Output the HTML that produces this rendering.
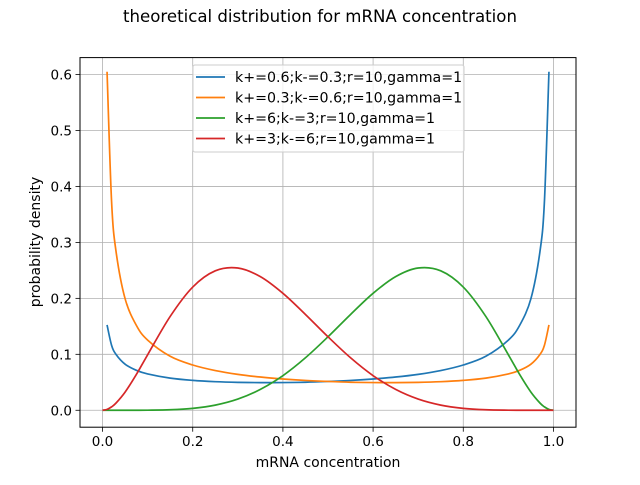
<!DOCTYPE html>
<html><head><meta charset="utf-8"><style>
body{margin:0;background:#fff;}
svg text{font-family:"DejaVu Sans","Liberation Sans",sans-serif;fill:#000;}
</style></head><body>
<svg id="chart" width="640" height="480" xmlns="http://www.w3.org/2000/svg">
<rect width="640" height="480" fill="#fff"/>
<text x="320" y="22" font-size="16.6" text-anchor="middle">theoretical distribution for mRNA concentration</text>
<g id="grid"></g>
<g id="series"></g>
<rect x="80" y="57.6" width="496" height="369.6" fill="none" stroke="#000" stroke-width="1"/>
<g id="ticks"></g>
<text x="328" y="467" font-size="14" text-anchor="middle">mRNA concentration</text>
<text x="40" y="242" font-size="14" text-anchor="middle" transform="rotate(-90 40 242)">probability density</text>
<g id="legend">
<rect x="193" y="65" width="271" height="87" rx="2" fill="#fff" fill-opacity="0.8" stroke="#ccc" stroke-width="1"/>
</g>
</svg>
<script>
const xs = [0.01,0.02,0.03,0.05,0.075,0.1,0.15,0.2,0.25,0.3,0.35,0.4,0.45,0.5,0.55,0.6,0.65,0.7,0.75,0.8,0.85,0.9,0.925,0.95,0.97,0.98,0.99];
const blueVals = [0.1524,0.1163,0.0997,0.0824,0.0714,0.0649,0.0574,0.0534,0.0511,0.0499,0.0494,0.0495,0.0501,0.0515,0.0533,0.0559,0.0594,0.0642,0.0710,0.0809,0.0965,0.1254,0.1517,0.1994,0.2833,0.3736,0.6050];
const orangeVals = [0.6050,0.3736,0.2833,0.1994,0.1517,0.1254,0.0965,0.0809,0.0710,0.0642,0.0594,0.0559,0.0533,0.0515,0.0501,0.0495,0.0494,0.0499,0.0511,0.0534,0.0574,0.0649,0.0714,0.0824,0.0997,0.1163,0.1524];
const xs2 = [0,0.01,0.02,0.03,0.05,0.075,0.1,0.15,0.2,0.25,0.3,0.35,0.4,0.45,0.5,0.55,0.6,0.65,0.7,0.75,0.8,0.85,0.9,0.925,0.95,0.97,0.98,0.99,1];
const greenVals = [0,0,0,0,0.00001,0.00003,0.00014,0.00092,0.00344,0.00923,0.0200,0.0373,0.0619,0.0938,0.1313,0.1712,0.2090,0.2388,0.2542,0.2492,0.2202,0.1677,0.0992,0.0640,0.0325,0.01298,0.00607,0.0016,0];
const redVals = [0,0.0016,0.00607,0.01298,0.0325,0.0640,0.0992,0.1677,0.2202,0.2492,0.2542,0.2388,0.2090,0.1712,0.1313,0.0938,0.0619,0.0373,0.0200,0.00923,0.00344,0.00092,0.00014,0.00003,0.00001,0,0,0,0];
const xTicks = [0,0.2,0.4,0.6,0.8,1.0];
const xTickLabels = ["0.0","0.2","0.4","0.6","0.8","1.0"];
const yTicks = [0,0.1,0.2,0.3,0.4,0.5,0.6];
const yTickLabels = ["0.0","0.1","0.2","0.3","0.4","0.5","0.6"];
const legendLabels = ["k+=0.6;k-=0.3;r=10,gamma=1","k+=0.3;k-=0.6;r=10,gamma=1","k+=6;k-=3;r=10,gamma=1","k+=3;k-=6;r=10,gamma=1"];

const NS="http://www.w3.org/2000/svg";
const L=80,R=576,T=57.6,B=427.2;
const xmin=-0.05,xmax=1.05,ymin=-0.03025,ymax=0.63025;
const sx=v=>L+(v-xmin)/(xmax-xmin)*(R-L);
const sy=v=>B-(v-ymin)/(ymax-ymin)*(B-T);
function mk(tag,attrs,parent){const e=document.createElementNS(NS,tag);for(const k in attrs)e.setAttribute(k,attrs[k]);parent.appendChild(e);return e;}
function smoothPath(P){
  let d='M'+P[0][0].toFixed(2)+','+P[0][1].toFixed(2);
  for(let i=0;i<P.length-1;i++){
    const p0=P[Math.max(i-1,0)],p1=P[i],p2=P[i+1],p3=P[Math.min(i+2,P.length-1)];
    const c1=[p1[0]+(p2[0]-p0[0])/6,p1[1]+(p2[1]-p0[1])/6];
    const c2=[p2[0]-(p3[0]-p1[0])/6,p2[1]-(p3[1]-p1[1])/6];
    d+=' C'+c1[0].toFixed(2)+','+c1[1].toFixed(2)+' '+c2[0].toFixed(2)+','+c2[1].toFixed(2)+' '+p2[0].toFixed(2)+','+p2[1].toFixed(2);
  }
  return d;
}
const grid=document.getElementById('grid'),ticks=document.getElementById('ticks'),series=document.getElementById('series'),legend=document.getElementById('legend');
xTicks.forEach((v,i)=>{
  const g=mk('line',{x1:sx(v),x2:sx(v),y1:T,y2:B,stroke:'#b0b0b0','stroke-width':0.8},grid);
  
  
  const t=mk('line',{x1:sx(v),x2:sx(v),y1:B,y2:B+4.5,stroke:'#000','stroke-width':0.8},ticks);
  
  
  const l=mk('text',{x:sx(v),y:B+19,'font-size':13.5,'text-anchor':'middle'},ticks);
  l.textContent=xTickLabels[i];
  
  
});
yTicks.forEach((v,i)=>{
  const g=mk('line',{x1:L,x2:R,y1:sy(v),y2:sy(v),stroke:'#b0b0b0','stroke-width':0.8},grid);
  
  
  const t=mk('line',{x1:L-4.5,x2:L,y1:sy(v),y2:sy(v),stroke:'#000','stroke-width':0.8},ticks);
  
  
  const l=mk('text',{x:L-8,y:sy(v)+5,'font-size':13.5,'text-anchor':'end'},ticks);
  l.textContent=yTickLabels[i];
  
  
});
const defs=[[xs,blueVals,'#1f77b4','blue-series'],[xs,orangeVals,'#ff7f0e','orange-series'],[xs2,greenVals,'#2ca02c','green-series'],[xs2,redVals,'#d62728','red-series']];
defs.forEach((d,i)=>{
  const P=d[0].map((x,j)=>[sx(x),sy(d[1][j])]);
  const p=mk('path',{d:smoothPath(P),fill:'none',stroke:d[2],'stroke-width':1.7,'stroke-linejoin':'round'},series);
  
  
  const y=77+i*20.5;
  const ln=mk('line',{x1:196,x2:225,y1:y,y2:y,stroke:d[2],'stroke-width':1.7},legend);
  
  
  const tx=mk('text',{x:235,y:y+5,'font-size':14.2},legend);
  tx.textContent=legendLabels[i];
  
  
});
</script>
</body></html>
